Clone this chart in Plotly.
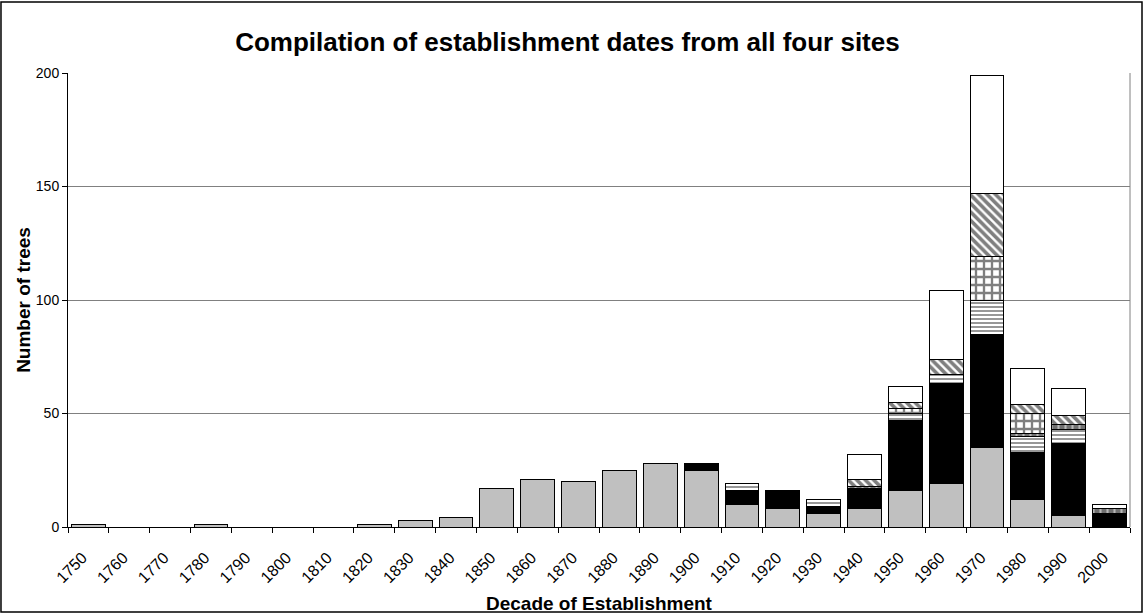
import plotly.graph_objects as go

decades = [str(y) for y in range(1750, 2001, 10)]

# stacked layers, bottom to top
gray_vals = [1, 0, 0, 1, 0, 0, 0, 1, 3, 4, 17, 21, 20, 25, 28, 25, 10, 8, 6, 8, 16, 19, 35, 12, 5, 0]
black_vals = [0, 0, 0, 0, 0, 0, 0, 0, 0, 0, 0, 0, 0, 0, 0, 3, 6, 8, 3, 9, 31, 44, 50, 21, 32, 6]
stripe_vals = [0, 0, 0, 0, 0, 0, 0, 0, 0, 0, 0, 0, 0, 0, 0, 0, 3, 0, 3, 0, 3, 4, 15, 7, 6, 0]
dash_vals = [0, 0, 0, 0, 0, 0, 0, 0, 0, 0, 0, 0, 0, 0, 0, 0, 0, 0, 0, 1, 0, 0, 0, 1, 2, 2]
grid_vals = [0, 0, 0, 0, 0, 0, 0, 0, 0, 0, 0, 0, 0, 0, 0, 0, 0, 0, 0, 0, 2, 0, 19, 9, 0, 0]
diag_vals = [0, 0, 0, 0, 0, 0, 0, 0, 0, 0, 0, 0, 0, 0, 0, 0, 0, 0, 0, 3, 3, 7, 28, 4, 4, 0]
white_vals = [0, 0, 0, 0, 0, 0, 0, 0, 0, 0, 0, 0, 0, 0, 0, 0, 0, 0, 0, 11, 7, 30, 52, 16, 12, 2]

FONT = "Liberation Sans, Arial, sans-serif"
outline = dict(color="black", width=1)

layers = [
    ("Gray", gray_vals, dict(color="#c0c0c0", line=outline)),
    ("Black", black_vals, dict(color="black", line=outline)),
    ("Stripes", stripe_vals, dict(color="white", line=outline,
                                  pattern=dict(shape="-", fgcolor="#303030", bgcolor="white",
                                               size=4, solidity=0.5))),
    ("Dashed", dash_vals, dict(color="#808080", line=outline,
                               pattern=dict(shape="|", fgcolor="white", bgcolor="#707070",
                                            size=7, solidity=0.3))),
    ("Grid", grid_vals, dict(color="white", line=outline,
                             pattern=dict(shape="+", fgcolor="black", bgcolor="white",
                                          size=8, solidity=0.5))),
    ("Diagonal", diag_vals, dict(color="white", line=outline,
                                 pattern=dict(shape="\\", fgcolor="black", bgcolor="white",
                                              size=6, solidity=0.6))),
    ("White", white_vals, dict(color="white", line=outline)),
]

fig = go.Figure()
for name, vals, marker in layers:
    fig.add_trace(go.Bar(x=decades, y=vals, name=name, marker=marker))

fig.update_layout(
    barmode="stack",
    bargap=0.17,
    width=1144, height=614,
    autosize=False,
    margin=dict(l=68, r=14, t=73, b=87, autoexpand=False),
    paper_bgcolor="white",
    plot_bgcolor="white",
    showlegend=False,
    font=dict(family=FONT, size=12, color="black"),
    title=dict(text="<b>Compilation of establishment dates from all four sites</b>",
               x=0.496, xanchor="center", y=0.932, yanchor="middle",
               font=dict(family=FONT, size=26, color="black")),
    xaxis=dict(
        type="category",
        tickson="boundaries",
        ticks="outside", ticklen=5, tickcolor="black",
        tickangle=-45,
        ticklabelstandoff=14,
        ticklabelshift=-6,
        showline=True, linecolor="black", linewidth=1,
        showgrid=False,
        tickfont=dict(family=FONT, size=16),
    ),
    yaxis=dict(
        range=[0, 200],
        tickvals=[0, 50, 100, 150, 200],
        ticks="outside", ticklen=5, tickcolor="black",
        showline=True, linecolor="black", linewidth=1,
        showgrid=True, gridcolor="#808080", gridwidth=1,
        zeroline=False,
        tickfont=dict(family=FONT, size=14),
        title=dict(text="<b>Number of trees</b>", standoff=0,
                   font=dict(family=FONT, size=19)),
    ),
    annotations=[
        dict(text="<b>Decade of Establishment</b>", xref="paper", yref="paper",
             x=0.5, y=-0.168, xanchor="center", yanchor="middle", showarrow=False,
             font=dict(family=FONT, size=19)),
    ],
    shapes=[
        dict(type="line", xref="paper", yref="paper", x0=1, x1=1, y0=0, y1=1,
             line=dict(color="#808080", width=1)),
        dict(type="rect", xref="paper", yref="paper",
             x0=-0.0631, x1=1.0113, y0=-0.1872, y1=1.1564,
             line=dict(color="black", width=1.5)),
    ],
)

fig.write_html("out.html", config={"displayModeBar": False},
               post_script="document.body.style.margin='0';")
